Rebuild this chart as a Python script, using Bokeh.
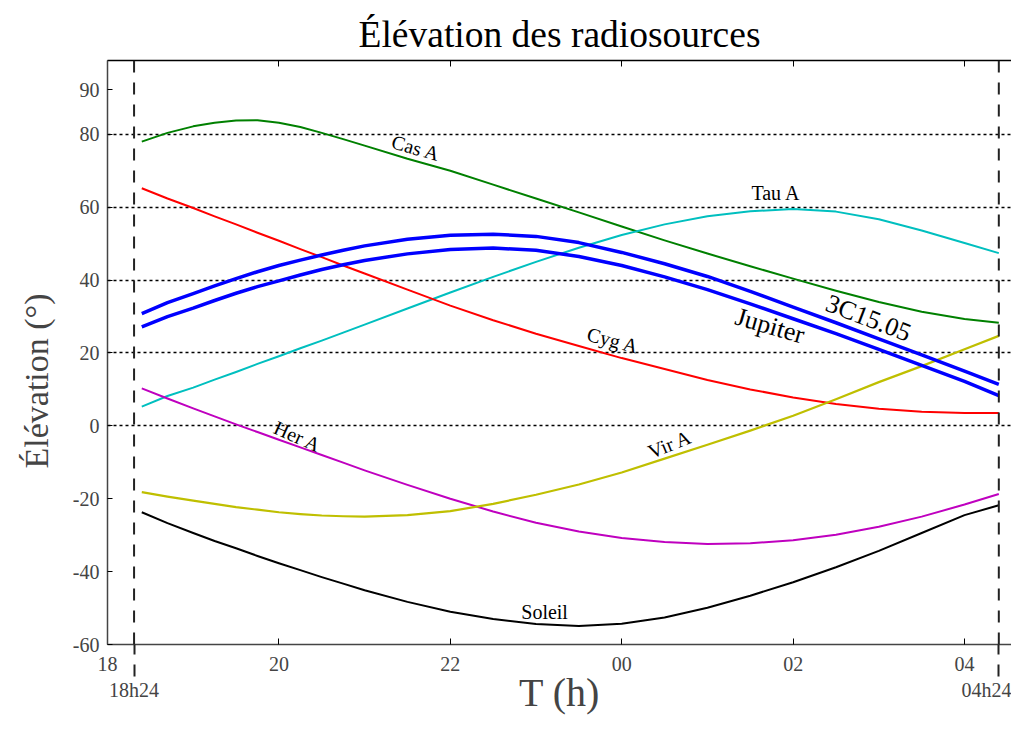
from bokeh.plotting import figure
from bokeh.models import Range1d, FixedTicker, LinearAxis, Span, Label, Title
from bokeh.embed import file_html
from bokeh.resources import INLINE
import math

# ---------------- data ----------------
hours = [18.4, 18.7, 19.0, 19.25, 19.5, 19.75, 20.0, 20.25, 20.5, 20.75, 21.0, 21.5,
         22.0, 22.5, 23.0, 23.5, 24.0, 24.5, 25.0, 25.5, 26.0, 26.5, 27.0, 27.5,
         28.0, 28.4]

cas_a = [78.0, 80.4, 82.2, 83.2, 83.8, 83.9, 83.2, 82.0, 80.4, 78.7, 76.9, 73.3,
         70.0, 66.2, 62.4, 58.6, 54.7, 50.9, 47.3, 43.8, 40.4, 37.1, 34.0, 31.3,
         29.3, 28.3]
tau_a = [5.3, 8.2, 10.5, 12.7, 14.8, 17.0, 19.1, 21.3, 23.4, 25.6, 27.8, 32.2,
         36.6, 40.9, 45.0, 48.9, 52.4, 55.3, 57.5, 58.9, 59.5, 58.8, 56.7, 53.6,
         50.2, 47.4]
c3c15 = [30.8, 33.8, 36.3, 38.4, 40.4, 42.3, 44.0, 45.5, 46.9, 48.2, 49.4, 51.2,
         52.3, 52.6, 52.0, 50.3, 47.6, 44.5, 41.0, 36.9, 32.6, 28.3, 23.9, 19.5,
         15.0, 11.4]
jupiter = [27.2, 30.0, 32.3, 34.4, 36.4, 38.2, 39.8, 41.4, 42.9, 44.2, 45.4, 47.2,
           48.4, 48.8, 48.2, 46.5, 44.0, 40.9, 37.4, 33.5, 29.4, 25.3, 21.0, 16.6,
           12.2, 8.3]
cyg_a = [65.2, 62.4, 59.8, 57.5, 55.3, 53.0, 50.8, 48.5, 46.3, 44.0, 41.8, 37.4,
         33.0, 29.0, 25.3, 21.9, 18.6, 15.6, 12.6, 10.0, 7.8, 6.0, 4.7, 3.9,
         3.5, 3.5]
her_a = [10.3, 7.5, 4.8, 2.6, 0.4, -1.7, -3.8, -5.9, -8.0, -10.1, -12.2, -16.2,
         -20.0, -23.5, -26.6, -29.0, -30.8, -31.9, -32.4, -32.2, -31.4, -29.9, -27.7, -24.9,
         -21.6, -18.7]
vir_a = [-18.2, -19.4, -20.5, -21.4, -22.3, -23.0, -23.7, -24.2, -24.6, -24.8, -24.9, -24.5,
         -23.4, -21.4, -18.9, -16.1, -12.8, -9.0, -5.2, -1.3, 2.8, 7.3, 12.0, 16.4,
         21.0, 24.7]
soleil = [-23.7, -26.7, -29.4, -31.6, -33.6, -35.7, -37.7, -39.6, -41.5, -43.3, -45.1, -48.3,
          -51.0, -53.0, -54.4, -54.9, -54.3, -52.6, -49.9, -46.6, -42.9, -38.8, -34.3, -29.4,
          -24.5, -21.8]

x_ticks = [18, 20, 22, 24, 26, 28]
x_tick_labels = ["18", "20", "22", "00", "02", "04"]
y_ticks = [-60, -40, -20, 0, 20, 40, 60, 80, 92.3]
y_tick_labels = ["-60", "-40", "-20", "0", "20", "40", "60", "80", "90"]
grid_levels = [0, 20, 40, 60, 80]
window_times = [18.31, 28.4]
window_labels = ["18h24", "04h24"]

# curve labels: (text, x, y, angle deg, size)
curve_labels = [
    ("Cas A", 21.6, 76.3, -16, "20px"),
    ("Tau A", 25.8, 64.0, 0, "20px"),
    ("3C15.05", 26.88, 29.6, -21, "26px"),
    ("Jupiter", 25.73, 27.5, -16, "26px"),
    ("Cyg A", 23.9, 23.5, -15, "20px"),
    ("Her A", 20.22, -2.9, -24, "20px"),
    ("Vir A", 24.56, -5.0, 22, "20px"),
    ("Soleil", 23.1, -51.0, 0, "20px"),
]

FONT = "Liberation Serif"

W, H = 1011, 717
p = figure(width=W, height=H, output_backend="svg", toolbar_location=None,
           x_range=Range1d(18, 28.548), y_range=Range1d(-60, 100.27),
           min_border_left=106, min_border_right=0, min_border_top=60,
           min_border_bottom=0)
p.outline_line_color = None
p.background_fill_color = "white"
p.border_fill_color = "white"

p.title.text = "Élévation des radiosources"
p.title.text_font = FONT
p.title.text_font_size = "37.5px"
p.title.text_font_style = "normal"
p.title.align = "center"
p.title.text_color = "black"
p.title.standoff = 12

# bottom axis
xa = p.xaxis[0]
xa.ticker = FixedTicker(ticks=x_ticks, minor_ticks=window_times)
xa.major_label_overrides = {t: l for t, l in zip(x_ticks, x_tick_labels)}
xa.major_label_text_font = FONT
xa.major_label_text_font_size = "20px"
xa.major_label_standoff = -20
xa.major_tick_in = 6
xa.major_tick_out = 0
xa.minor_tick_in = 0
xa.minor_tick_out = 32
xa.minor_tick_line_dash = "12 10"
xa.minor_tick_line_width = 2
xa.minor_tick_line_color = "#222222"
xa.axis_line_color = "#444444"
xa.axis_line_width = 1.5

# second bottom axis for window labels
xa2 = LinearAxis(ticker=FixedTicker(ticks=window_times))
xa2.major_label_overrides = {t: l for t, l in zip(window_times, window_labels)}
xa2.major_label_text_font = FONT
xa2.major_label_text_font_size = "20px"
xa2.major_label_standoff = 5
xa2.major_tick_in = 0
xa2.major_tick_out = 0
xa2.major_tick_line_color = None
xa2.minor_tick_line_color = None
xa2.axis_line_color = None
xa2.axis_label = "T (h)"
xa2.axis_label_text_font = FONT
xa2.axis_label_text_font_size = "40px"
xa2.axis_label_text_font_style = "normal"
xa2.axis_label_standoff = -34
p.add_layout(xa2, "below")

# top axis (ticks only)
ta = LinearAxis(ticker=FixedTicker(ticks=x_ticks))
ta.major_label_overrides = {t: "" for t in x_ticks}
ta.major_label_text_font_size = "1px"
ta.major_label_standoff = 0
ta.major_tick_in = 6
ta.major_tick_out = 0
ta.minor_tick_line_color = None
ta.axis_line_color = "black"
ta.axis_line_width = 1.5
p.add_layout(ta, "above")

# left axis
ya = p.yaxis[0]
ya.ticker = FixedTicker(ticks=y_ticks)
ya.major_label_overrides = {t: l for t, l in zip(y_ticks, y_tick_labels)}
ya.major_label_text_font = FONT
ya.major_label_text_font_size = "20px"
ya.major_label_standoff = 8
ya.major_tick_in = 5
ya.major_tick_out = 0
ya.minor_tick_line_color = None
ya.axis_line_color = "#444444"
ya.axis_line_width = 1.5

ylab = Title(text="Élévation (°)", align="left", offset=176,
             text_font=FONT, text_font_size="34px", text_font_style="normal",
             standoff=30)
p.add_layout(ylab, "left")

# grid
p.xgrid.visible = False
p.ygrid.ticker = FixedTicker(ticks=grid_levels)
p.ygrid.grid_line_color = "black"
p.ygrid.grid_line_dash = "3 3"
p.ygrid.grid_line_width = 1.6

for t in window_times:
    p.add_layout(Span(location=t, dimension="height", line_color="#222222",
                      line_width=2, line_dash="12 10"))

series = [
    (cas_a, "#008000", 2),
    (tau_a, "#00bfbf", 2),
    (cyg_a, "#ff0000", 2),
    (her_a, "#bf00bf", 2),
    (vir_a, "#bfbf00", 2.2),
    (soleil, "#000000", 2),
    (c3c15, "#0000ff", 3.5),
    (jupiter, "#0000ff", 3.5),
]
for ys, col, w in series:
    p.line(hours, ys, line_color=col, line_width=w, line_join="round")

for txt, x, y, ang, size in curve_labels:
    p.add_layout(Label(x=x, y=y, text=txt, angle=math.radians(ang),
                       text_align="center", text_baseline="middle",
                       text_font=FONT, text_font_size=size, text_color="black"))

open("out.html", "w").write(file_html(p, INLINE))
